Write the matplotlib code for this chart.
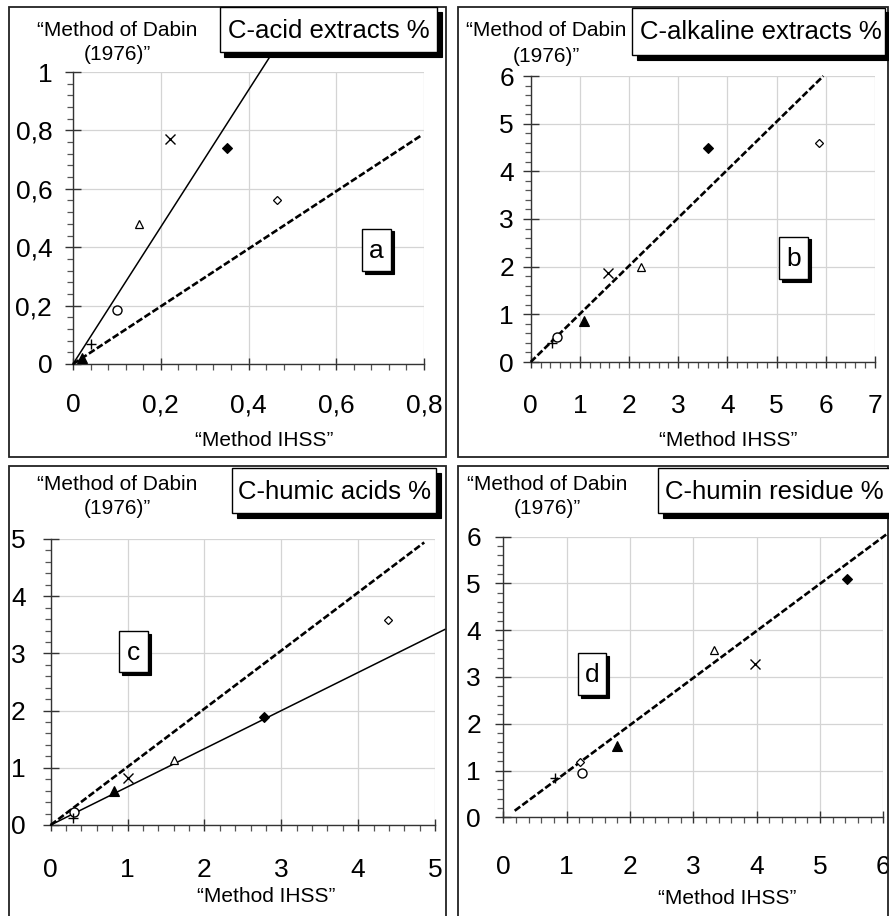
import matplotlib
matplotlib.use("Agg")
import matplotlib.pyplot as plt
from matplotlib.patches import Rectangle
from matplotlib.ticker import MultipleLocator, AutoMinorLocator, FuncFormatter

plt.rcParams['font.family'] = ['Liberation Sans', 'DejaVu Sans']

W, H = 889, 916

# ---------------- data ----------------
# marker order: filled diamond, open diamond, cross, open triangle, filled triangle, open circle, plus
acid_x = [0.35, 0.465, 0.22, 0.15, 0.02, 0.10, 0.04]
acid_y = [0.74, 0.56, 0.77, 0.48, 0.02, 0.185, 0.07]
alk_x = [3.61, 5.86, 1.58, 2.24, 1.09, 0.53, 0.44]
alk_y = [4.48, 4.60, 1.86, 2.00, 0.85, 0.52, 0.40]
humic_x = [2.78, 4.39, 1.01, 1.60, 0.82, 0.30, 0.29]
humic_y = [1.88, 3.58, 0.82, 1.14, 0.59, 0.23, 0.12]
humin_x = [5.43, 1.21, 3.97, 3.32, 1.79, 1.24, 0.82]
humin_y = [5.10, 1.19, 3.27, 3.58, 1.53, 0.94, 0.85]

# fitted / reference lines (end points)
acid_solid_x = [0.0, 0.452]
acid_solid_y = [0.0, 1.06]
acid_dash_x = [0.0, 0.795]
acid_dash_y = [0.0, 0.784]
alk_dash_x = [0.0, 5.95]
alk_dash_y = [0.0, 6.0]
humic_dash_x = [0.0, 4.86]
humic_dash_y = [0.0, 4.94]
humic_solid_x = [0.0, 5.13]
humic_solid_y = [0.0, 3.42]
humin_dash_x = [0.18, 6.05]
humin_dash_y = [0.14, 6.05]

titles = ["C-acid extracts %", "C-alkaline extracts %", "C-humic acids %", "C-humin residue %"]
letters = ["a", "b", "c", "d"]
ylabel_text = ["\u201cMethod of Dabin", "(1976)\u201d"]
xlabel_text = "\u201cMethod IHSS\u201d"

marker_styles = [
    dict(marker='D', ms=5.5, mfc='black', mec='black', mew=0.8),
    dict(marker='D', ms=4.5, mfc='white', mec='black', mew=0.9),
    dict(marker='x', ms=6.5, mfc='none', mec='black', mew=1.0),
    dict(marker='^', ms=6, mfc='white', mec='black', mew=0.9),
    dict(marker='^', ms=6.5, mfc='black', mec='black', mew=0.8),
    dict(marker='o', ms=6.5, mfc='white', mec='black', mew=1.0),
    dict(marker='+', ms=7, mfc='none', mec='black', mew=1.0),
]

fig = plt.figure(figsize=(W / 100, H / 100), dpi=100)


def fx(px):
    return px / W


def fy(py):
    return 1 - py / H


def rect(x0, y0, x1, y1, **kw):
    r = Rectangle((fx(x0), fy(y1)), (x1 - x0) / W, (y1 - y0) / H,
                  transform=fig.transFigure, **kw)
    fig.add_artist(r)
    return r


def shadow_box(x0, y0, x1, y1, off, z):
    rect(x0 + off, y0 + off, x1 + off, y1 + off, facecolor='black', edgecolor='black',
         lw=0.8, zorder=z)
    rect(x0, y0, x1, y1, facecolor='white', edgecolor='black', lw=1.0, zorder=z + 0.1)


def comma(v, pos):
    s = ('%g' % round(v, 6))
    return s.replace('.', ',')


# panel frames
for (x0, y0, x1, y1) in [(9, 7, 446, 457), (458, 7, 888, 457), (9, 466, 446, 925), (458, 466, 888, 925)]:
    rect(x0, y0, x1, y1, facecolor='none', edgecolor='#222222', lw=1.3, zorder=1)

panels = [
    dict(ax=(73, 424, 364, 72), xlim=(0, 0.8), ylim=(0, 1.0), xmaj=0.2, ymaj=0.2,
         xs=acid_x, ys=acid_y, dash=(acid_dash_x, acid_dash_y), solid=(acid_solid_x, acid_solid_y),
         title_box=(220, 7, 437, 52), title_c=(329, 31), letter_box=(362, 229, 391, 271),
         ylab=(117, 30, 55), xlab=(264, 440), xpad=17, ypad=9),
    dict(ax=(530.7, 875, 362, 76), xlim=(0, 7), ylim=(0, 6), xmaj=1, ymaj=1,
         xs=alk_x, ys=alk_y, dash=(alk_dash_x, alk_dash_y), solid=None,
         title_box=(632, 8, 885, 55), title_c=(761, 32), letter_box=(779, 237, 808, 279),
         ylab=(546, 31, 56), xlab=(728, 440), xpad=19, ypad=6),
    dict(ax=(50.7, 435, 825, 539), xlim=(0, 5), ylim=(0, 5), xmaj=1, ymaj=1,
         xs=humic_x, ys=humic_y, dash=(humic_dash_x, humic_dash_y), solid=(humic_solid_x, humic_solid_y),
         title_box=(232, 468, 436, 513), title_c=(334, 492), letter_box=(119, 631, 148, 672),
         ylab=(117, 485, 509), xlab=(266, 897), xpad=20, ypad=12),
    dict(ax=(503.3, 883.3, 817.3, 536.7), xlim=(0, 6), ylim=(0, 6), xmaj=1, ymaj=1,
         xs=humin_x, ys=humin_y, dash=(humin_dash_x, humin_dash_y), solid=None,
         title_box=(658, 468, 895, 513), title_c=(774, 492), letter_box=(578, 653, 606, 695),
         ylab=(547, 485, 509), xlab=(727, 898), xpad=23, ypad=10),
]

for i, p in enumerate(panels):
    x0, x1, y0, y1 = p['ax']
    ax = fig.add_axes([fx(x0), fy(y0), (x1 - x0) / W, (y0 - y1) / H])
    ax.set_xlim(*p['xlim'])
    ax.set_ylim(*p['ylim'])
    ax.patch.set_alpha(0)
    for s in ['top', 'right']:
        ax.spines[s].set_visible(False)
    for s in ['left', 'bottom']:
        ax.spines[s].set_color('#333333')
        ax.spines[s].set_linewidth(1.0)
    ax.xaxis.set_major_locator(MultipleLocator(p['xmaj']))
    ax.yaxis.set_major_locator(MultipleLocator(p['ymaj']))
    ax.xaxis.set_minor_locator(AutoMinorLocator(5))
    ax.yaxis.set_minor_locator(AutoMinorLocator(5))
    ax.xaxis.set_major_formatter(FuncFormatter(comma))
    ax.yaxis.set_major_formatter(FuncFormatter(comma))
    ax.grid(True, which='major', color='#d4d4d4', lw=0.9)
    ax.set_axisbelow(True)
    ax.tick_params(axis='x', which='major', direction='inout', length=8, width=1.0,
                   labelsize=19, pad=p['xpad'], color='#333333')
    ax.tick_params(axis='y', which='major', direction='inout', length=12, width=1.0,
                   labelsize=19, pad=p['ypad'], color='#333333')
    ax.tick_params(which='minor', direction='out', length=4, width=0.9, color='#555555')

    # lines
    dx, dy = p['dash']
    ax.plot(dx, dy, color='black', lw=1.9, dashes=(2.6, 1.0), clip_on=False, zorder=3)
    if p['solid'] is not None:
        sx, sy = p['solid']
        ax.plot(sx, sy, color='black', lw=1.1, clip_on=False, zorder=3)

    # points
    for xv, yv, st in zip(p['xs'], p['ys'], marker_styles):
        ax.plot([xv], [yv], ls='none', clip_on=False, zorder=4, **st)

    # title box
    bx0, by0, bx1, by1 = p['title_box']
    shadow_box(bx0, by0, bx1, by1, 4.5, 6)
    fig.text(fx(p['title_c'][0]), fy(p['title_c'][1]), titles[i], fontsize=18.5,
             ha='center', va='center', zorder=8)

    # letter box
    lx0, ly0, lx1, ly1 = p['letter_box']
    shadow_box(lx0, ly0, lx1, ly1, 2.5, 6)
    fig.text(fx((lx0 + lx1) / 2), fy((ly0 + ly1) / 2 + 1), letters[i], fontsize=19,
             ha='center', va='center', zorder=8)

    # axis labels
    yl = p['ylab']
    fig.text(fx(yl[0]), fy(yl[1]), ylabel_text[0], fontsize=15, ha='center', va='center', zorder=8)
    fig.text(fx(yl[0]), fy(yl[2]), ylabel_text[1], fontsize=15, ha='center', va='center', zorder=8)
    fig.text(fx(p['xlab'][0]), fy(p['xlab'][1]), xlabel_text, fontsize=15,
             ha='center', va='center', zorder=8)

fig.savefig('out.png', dpi=100)
